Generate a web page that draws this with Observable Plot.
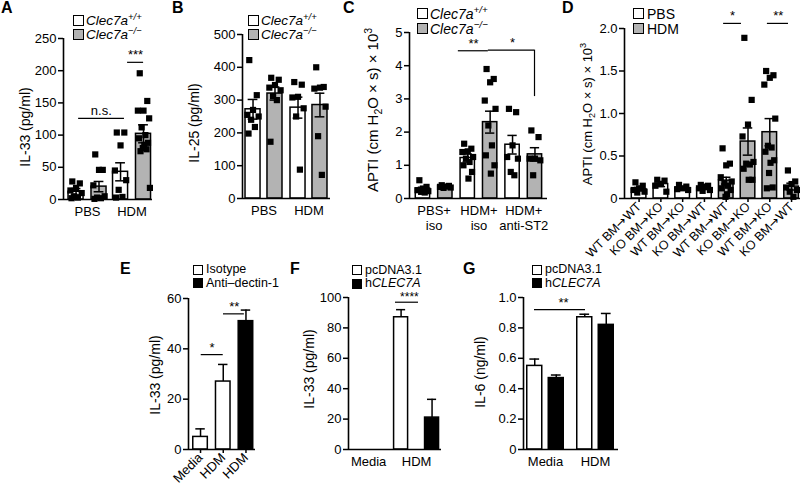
<!DOCTYPE html>
<html><head><meta charset="utf-8">
<script src="https://cdn.jsdelivr.net/npm/d3@7"></script>
<script src="https://cdn.jsdelivr.net/npm/@observablehq/plot@0.6"></script>
<style>
@font-face{font-family:"ArrowFix";src:local("DejaVu Sans");unicode-range:U+2190-21FF;}
body{margin:0;background:#fff;}
#fig{position:relative;width:800px;height:485px;overflow:hidden;font-family:"Liberation Sans",Arial,Helvetica,sans-serif;color:#000;background:#fff;}
#fig svg{position:absolute;left:0;top:0;}
.t{position:absolute;white-space:nowrap;line-height:1;}
.sw{position:absolute;box-sizing:border-box;border:1.5px solid #000;}
sub,sup{font-size:70%;line-height:0;}
</style></head><body><div id="fig"></div><script>
// ---------- DATA ----------
// Panel A: IL-33 (pg/ml)
const A_groups = ["PBS", "HDM"];
const A_meanWT = [12, 43];
const A_semWT = [5, 14];
const A_meanKO = [20, 102];
const A_semKO = [8, 14];
const A_ptsWT = [[28, 25, 18, 14, 10, 5, 3, 2], [104, 104, 84, 45, 30, 15, 4, 3]];
const A_ptsKO = [[70, 46, 46, 22, 5, 3, 2, 1], [196, 153, 138, 138, 126, 112, 100, 95, 88, 85, 80, 78, 75, 18]];
const A_yTicks = [0, 50, 100, 150, 200, 250];

// Panel B: IL-25 (pg/ml)
const B_groups = ["PBS", "HDM"];
const B_meanWT = [272, 277];
const B_semWT = [30, 32];
const B_meanKO = [320, 285];
const B_semKO = [20, 36];
const B_ptsWT = [[422, 315, 270, 255, 250, 240, 218, 198], [355, 347, 310, 308, 275, 250, 88]];
const B_ptsKO = [[368, 362, 346, 338, 330, 312, 300, 173], [400, 340, 338, 335, 280, 190, 72]];
const B_yTicks = [0, 100, 200, 300, 400, 500];

// Panel C: APTI
const C_groups = ["PBS+\niso", "HDM+\niso", "HDM+\nanti-ST2"];
const C_meanWT = [0.3, 1.22, 1.62];
const C_semWT = [0.04, 0.12, 0.28];
const C_meanKO = [0.37, 2.3, 1.33];
const C_semKO = [0.02, 0.33, 0.2];
const C_ptsWT = [[0.55, 0.35, 0.3, 0.25, 0.22, 0.2, 0.18], [1.65, 1.5, 1.42, 1.4, 1.25, 1.2, 1.1, 1.0, 0.8, 0.6], [2.7, 2.6, 1.6, 1.25, 1.2, 0.8, 0.7]];
const C_ptsKO = [[0.4, 0.38, 0.36, 0.35, 0.33, 0.32], [3.9, 3.6, 3.5, 2.95, 2.7, 2.2, 1.6, 1.3, 1.0, 0.75], [2.05, 1.85, 1.2, 1.2, 1.15, 0.7]];
const C_yTicks = [0, 1, 2, 3, 4, 5];

// Panel D: APTI bone-marrow chimeras
const D_labels = ["WT BM→WT", "KO BM→KO", "WT BM→KO", "KO BM→WT", "WT BM→WT", "KO BM→KO", "WT BM→KO", "KO BM→WT"];
const D_treat = ["PBS", "PBS", "PBS", "PBS", "HDM", "HDM", "HDM", "HDM"];
const D_mean = [0.11, 0.17, 0.12, 0.12, 0.21, 0.67, 0.78, 0.14];
const D_sem = [0.02, 0.03, 0.015, 0.015, 0.04, 0.16, 0.16, 0.04];
const D_pts = [
  [0.19, 0.15, 0.12, 0.1, 0.08, 0.07],
  [0.22, 0.21, 0.17, 0.15, 0.08],
  [0.16, 0.14, 0.12, 0.11, 0.1],
  [0.16, 0.15, 0.14, 0.12, 0.1, 0.09],
  [0.59, 0.41, 0.39, 0.25, 0.2, 0.18, 0.15, 0.12, 0.1, 0.05, 0.02],
  [1.89, 1.16, 0.87, 0.73, 0.43, 0.41, 0.4, 0.35, 0.22, 0.22],
  [1.5, 1.45, 1.42, 1.34, 0.94, 0.62, 0.6, 0.55, 0.45, 0.42, 0.3, 0.13, 0.12],
  [0.33, 0.2, 0.17, 0.13, 0.1, 0.08, 0.02]
];
const D_yTicks = [0, 0.5, 1.0, 1.5, 2.0];

// Panel E: IL-33 (pg/ml)
const E_labels = ["Media", "HDM", "HDM"];
const E_treat = ["Isotype", "Isotype", "Anti–dectin-1"];
const E_mean = [5, 27, 51];
const E_sem = [3.2, 6.8, 4.4];
const E_yTicks = [0, 20, 40, 60];

// Panel F: IL-33 (pg/ml)
const F_groups = ["Media", "HDM"];
const F_meanPc = [0, 87];
const F_semPc = [0, 5];
const F_meanH = [0, 21];
const F_semH = [0, 12];
const F_yTicks = [0, 20, 40, 60, 80, 100];

// Panel G: IL-6 (ng/ml)
const G_groups = ["Media", "HDM"];
const G_meanPc = [0.55, 0.87];
const G_semPc = [0.045, 0.02];
const G_meanH = [0.47, 0.82];
const G_semH = [0.02, 0.075];
const G_yTicks = [0, 0.2, 0.4, 0.6, 0.8, 1.0];

// significance annotations (data units)
const A_sig = [{x1: -0.2, x2: 0.83, y: 126, tx: 0.31, label: "n.s."}, {x1: 0.9, x2: 1.26, y: 213, tx: 1.08, label: "***"}];
const C_sig = [{x1: 0.54, x2: 1.21, y: 4.45, tx: 0.88, label: "**"}, {x1: 1.21, x2: 2.24, y: 4.47, tx: 1.75, label: "*"}];
const C_sigV = [{x: 2.24, y1: 3.07, y2: 4.47}];
const D_sig = [{x1: 3.88, x2: 4.70, y: 2.06, tx: 4.29, label: "*"}, {x1: 5.89, x2: 6.86, y: 2.06, tx: 6.39, label: "**"}];
const E_sig = [{x1: 0.03, x2: 1.0, y: 37.7, tx: 0.51, label: "*"}, {x1: 1.01, x2: 1.93, y: 53.9, tx: 1.49, label: "**"}];
const F_sig = [{x1: 0.56, x2: 1.04, y: 96.9, tx: 0.85, label: "****"}];
const G_sig = [{x1: -0.22, x2: 0.8, y: 0.92, tx: 0.36, label: "**"}];

// ---------- STYLE / LAYOUT ----------
const WHITE = "#ffffff", GRAY = "#b3b3b3", BLACK = "#000000";
const JIT = [-0.5, 0.5, 0, -0.75, 0.75, -0.25, 0.25, -0.6, 0.6, 0.1, -0.1, 0.4, -0.4, 0.85];
const fig = document.getElementById("fig");

function grouped(groups, series, off, hw) {
  const bars = [], pts = [];
  groups.forEach((g, gi) => {
    series.forEach((s, si) => {
      const x = gi + (si === 0 ? -off : off);
      bars.push({x, mean: s.mean[gi], sem: s.sem[gi], fill: s.fill});
      if (s.pts) s.pts[gi].forEach((v, k) => pts.push({x: x + JIT[k % JIT.length] * hw, y: v}));
    });
  });
  return {bars, pts};
}
function singles(fills, mean, sem, ptsArr, hw) {
  const bars = [], pts = [];
  mean.forEach((m, i) => {
    bars.push({x: i, mean: m, sem: sem[i], fill: fills[i]});
    if (ptsArr) ptsArr[i].forEach((v, k) => pts.push({x: i + JIT[k % JIT.length] * hw, y: v}));
  });
  return {bars, pts};
}

function panel(p) {
  const [L, T, R, B] = p.frame;
  const hw = p.hw, cap = hw * 0.65;
  const marks = [];
  marks.push(Plot.rectY(p.bars.filter(d => d.mean > 0), {x1: d => d.x - hw, x2: d => d.x + hw, y1: 0, y2: "mean", fill: "fill", stroke: BLACK, strokeWidth: 1.5}));
  if (p.pts && p.pts.length) marks.push(Plot.dot(p.pts, {x: "x", y: "y", symbol: "square", r: 3.5, fill: BLACK}));
  const eb = p.bars.filter(d => d.sem > 0);
  const lo = d => p.errBoth ? d.mean - d.sem : d.mean;
  marks.push(Plot.ruleX(eb, {x: "x", y1: lo, y2: d => d.mean + d.sem, stroke: BLACK, strokeWidth: 1.5}));
  marks.push(Plot.ruleY(eb, {y: d => d.mean + d.sem, x1: d => d.x - cap, x2: d => d.x + cap, stroke: BLACK, strokeWidth: 1.5}));
  if (p.errBoth) marks.push(Plot.ruleY(eb, {y: lo, x1: d => d.x - cap, x2: d => d.x + cap, stroke: BLACK, strokeWidth: 1.5}));
  if (p.sig) {
    marks.push(Plot.ruleY(p.sig, {y: "y", x1: "x1", x2: "x2", stroke: BLACK, strokeWidth: 1.2}));
    marks.push(Plot.text(p.sig, {x: "tx", y: "y", text: "label", dy: p.sigDy ?? -3, lineAnchor: "bottom", fontSize: p.sigFont || 13, fill: BLACK}));
  }
  if (p.sigV) marks.push(Plot.ruleX(p.sigV, {x: "x", y1: "y1", y2: "y2", stroke: BLACK, strokeWidth: 1.2}));
  marks.push(Plot.ruleY([0], {stroke: BLACK, strokeWidth: 1.6}));
  marks.push(Plot.ruleX([p.xDomain[0]], {stroke: BLACK, strokeWidth: 1.6}));
  marks.push(Plot.axisY({ticks: p.yTicks, tickFormat: p.yFormat || (d => String(d)), tickSize: 5, tickPadding: 2, fontSize: 13, strokeWidth: 1.5, label: null}));
  marks.push(Plot.axisX({ticks: p.xPos, tickFormat: d => p.xLabels[p.xPos.indexOf(d)], tickSize: p.xTickSize || 0, tickPadding: p.xTickPadding, tickRotate: p.xRotate || 0, fontSize: p.xFont || 13, lineHeight: p.lineHeight || 1, strokeWidth: 1.5, label: null}));
  const svg = Plot.plot({
    width: 800, height: 485,
    marginLeft: L, marginTop: T, marginRight: 800 - R, marginBottom: 485 - B,
    x: {type: "linear", domain: p.xDomain},
    y: {domain: p.yDomain},
    color: {type: "identity"},
    style: {background: "transparent", fontFamily: "ArrowFix, 'Liberation Sans', Arial, sans-serif", color: "#000", overflow: "visible"},
    marks
  });
  fig.appendChild(svg);
}

function text(html, x, baseline, fs, extra) {
  const d = document.createElement("div");
  d.className = "t";
  d.innerHTML = html;
  d.style.left = x + "px";
  d.style.top = (baseline - 0.8465 * fs) + "px";
  d.style.fontSize = fs + "px";
  if (extra) Object.assign(d.style, extra);
  fig.appendChild(d);
}
function ylabel(html, cx, cy, fs) {
  const d = document.createElement("div");
  d.className = "t";
  d.innerHTML = html;
  d.style.left = cx + "px";
  d.style.top = cy + "px";
  d.style.fontSize = fs + "px";
  d.style.transform = "translate(-50%,-50%) rotate(-90deg)";
  fig.appendChild(d);
}
function legend(items, x, y0, step, size, tx, fs) {
  items.forEach((it, i) => {
    const s = document.createElement("div");
    s.className = "sw";
    Object.assign(s.style, {left: x + "px", top: (y0 + i * step) + "px", width: size + "px", height: size + "px", background: it.fill});
    fig.appendChild(s);
    const c = y0 + i * step + size / 2;
    text(it.html, tx, c + fs * 0.36, fs, it.italic ? {fontStyle: "italic"} : null);
  });
}

// ---------- PANELS ----------
const fmt1 = d => d === 0 ? "0" : d.toFixed(1);

{ const hw = 0.169; const g = grouped(A_groups, [{mean: A_meanWT, sem: A_semWT, pts: A_ptsWT, fill: WHITE}, {mean: A_meanKO, sem: A_semKO, pts: A_ptsKO, fill: GRAY}], 0.258, hw);
  panel({frame: [63, 38, 152, 199], xDomain: [-0.54, 1.46], yDomain: [0, 250], yTicks: A_yTicks, hw, ...g, errBoth: true,
    xPos: [0, 1], xLabels: A_groups, xTickPadding: 7, sig: A_sig}); }

{ const hw = 0.167; const g = grouped(B_groups, [{mean: B_meanWT, sem: B_semWT, pts: B_ptsWT, fill: WHITE}, {mean: B_meanKO, sem: B_semKO, pts: B_ptsKO, fill: GRAY}], 0.244, hw);
  panel({frame: [242, 34, 330, 198], xDomain: [-0.478, 1.478], yDomain: [0, 500], yTicks: B_yTicks, hw, ...g, errBoth: true,
    xPos: [0, 1], xLabels: B_groups, xTickPadding: 7}); }

{ const hw = 0.16; const g = grouped(C_groups, [{mean: C_meanWT, sem: C_semWT, pts: C_ptsWT, fill: WHITE}, {mean: C_meanKO, sem: C_semKO, pts: C_ptsKO, fill: GRAY}], 0.25, hw);
  panel({frame: [409, 32, 547, 198], xDomain: [-0.55, 2.53], yDomain: [0, 5], yTicks: C_yTicks, hw, ...g, errBoth: true,
    xPos: [0, 1, 2], xLabels: C_groups, xTickPadding: 6, lineHeight: 1.15, sig: C_sig, sigV: C_sigV}); }

{ const hw = 0.335; const g = singles(D_treat.map(t => t === "PBS" ? WHITE : GRAY), D_mean, D_sem, D_pts, hw);
  panel({frame: [624, 28, 800, 198], xDomain: [-0.67, 7.41], yDomain: [0, 2], yTicks: D_yTicks, yFormat: fmt1, hw, ...g, errBoth: true,
    xPos: D_labels.map((d, i) => i), xLabels: D_labels, xTickSize: 4, xTickPadding: 2, xRotate: -45, xFont: 12.5, sig: D_sig}); }

{ const hw = 0.32; const g = singles(E_treat.map(t => t === "Isotype" ? WHITE : BLACK), E_mean, E_sem, null, hw);
  panel({frame: [188, 298, 255, 449], xDomain: [-0.53, 2.42], yDomain: [0, 60], yTicks: E_yTicks, hw, ...g, errBoth: false,
    xPos: [0, 1, 2], xLabels: E_labels, xTickSize: 4, xTickPadding: 2, xRotate: -45, xFont: 13, sig: E_sig}); }

{ const hw = 0.146; const g = grouped(F_groups, [{mean: F_meanPc, sem: F_semPc, fill: WHITE}, {mean: F_meanH, sem: F_semH, fill: BLACK}], 0.323, hw);
  panel({frame: [348, 297, 441, 449], xDomain: [-0.42, 1.52], yDomain: [0, 100], yTicks: F_yTicks, hw, ...g, errBoth: false,
    xPos: [0, 1], xLabels: F_groups, xTickPadding: 7, sig: F_sig, sigDy: -1, sigFont: 12}); }

{ const hw = 0.15; const g = grouped(G_groups, [{mean: G_meanPc, sem: G_semPc, fill: WHITE}, {mean: G_meanH, sem: G_semH, fill: BLACK}], 0.215, hw);
  panel({frame: [523, 297, 618, 449], xDomain: [-0.44, 1.46], yDomain: [0, 1], yTicks: G_yTicks, yFormat: fmt1, hw, ...g, errBoth: false,
    xPos: [0, 1], xLabels: G_groups, xTickPadding: 7, sig: G_sig}); }

// ---------- TEXT: letters, axis titles, legends ----------
const B16 = {fontWeight: "bold"};
text("A", 1, 14, 16, B16); text("B", 172, 14, 16, B16); text("C", 343, 14, 16, B16); text("D", 562, 14, 16, B16);
text("E", 120, 275, 16, B16); text("F", 290, 275, 16, B16); text("G", 463, 275, 16, B16);

ylabel("IL-33 (pg/ml)", 25, 127, 14);
ylabel("IL-25 (pg/ml)", 194, 123, 14);
ylabel("APTI (cm H<sub>2</sub>O × s) × 10<sup>3</sup>", 372, 110, 15);
ylabel("APTI (cm H<sub>2</sub>O × s) × 10<sup>3</sup>", 587, 114, 13);
ylabel("IL-33 (pg/ml)", 155, 375, 14);
ylabel("IL-33 (pg/ml)", 309, 369, 14);
ylabel("IL-6 (ng/ml)", 480, 372, 14);

const clec = [{fill: WHITE, html: "Clec7a<sup>+/+</sup>", italic: true}, {fill: GRAY, html: "Clec7a<sup>−/−</sup>", italic: true}];
legend(clec, 73, 15, 14, 11, 86, 13.5);
legend(clec, 248, 15, 14, 11, 261, 13.5);
legend(clec, 417, 8, 15, 11, 430, 14);
legend([{fill: WHITE, html: "PBS"}, {fill: GRAY, html: "HDM"}], 633, 8, 15, 11, 647, 14);
legend([{fill: WHITE, html: "Isotype"}, {fill: BLACK, html: "Anti–dectin-1"}], 193, 264.5, 13.5, 10, 206, 12.5);
legend([{fill: WHITE, html: "pcDNA3.1"}, {fill: BLACK, html: "h<i>CLEC7A</i>"}], 352, 265, 13.5, 10, 365, 12.5);
legend([{fill: WHITE, html: "pcDNA3.1"}, {fill: BLACK, html: "h<i>CLEC7A</i>"}], 532, 264.5, 13.5, 10, 545, 12.5);
</script></body></html>
